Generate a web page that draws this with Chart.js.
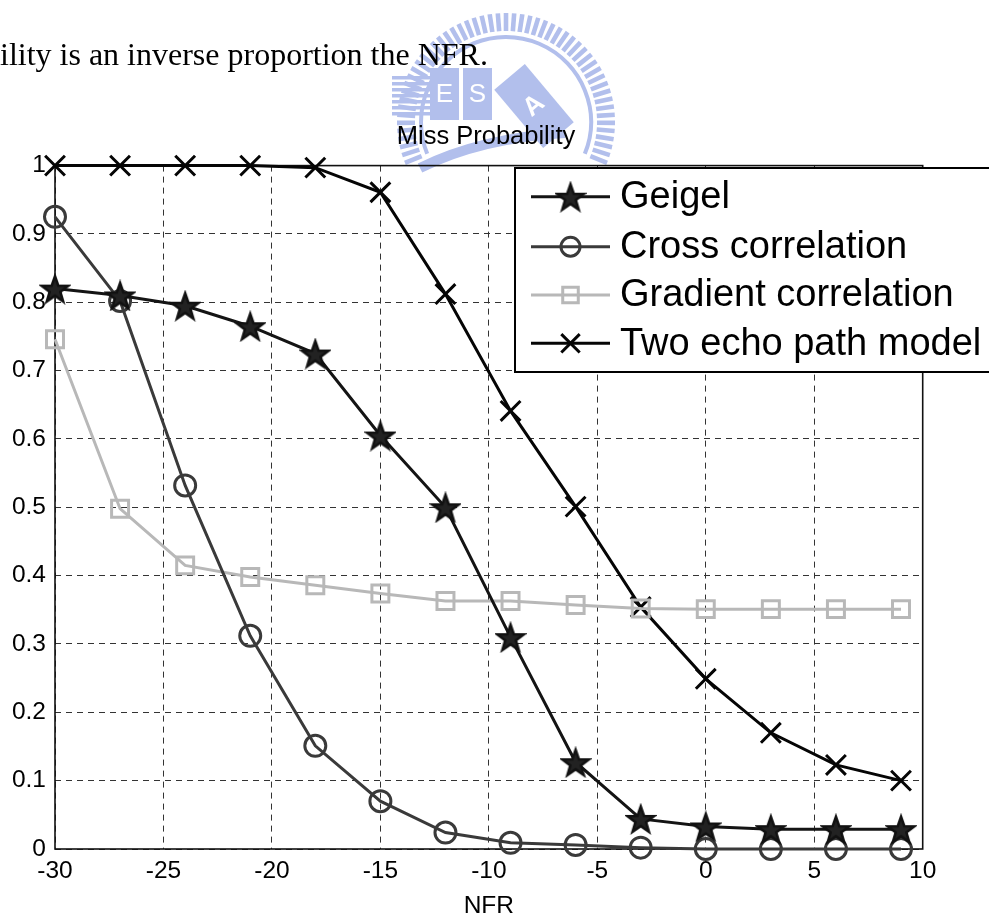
<!DOCTYPE html>
<html>
<head>
<meta charset="utf-8">
<title>Miss Probability</title>
<script src="https://cdn.jsdelivr.net/npm/chart.js@4.4.1/dist/chart.umd.min.js"></script>
<style>
  html, body { margin: 0; padding: 0; background: #fff; }
  #wrap { position: relative; width: 989px; height: 918px; overflow: hidden; }
  canvas { display: block; }
</style>
</head>
<body>
<div id="wrap"><canvas id="missChart" width="989" height="918"></canvas></div>
<script>
// Miss probability against NFR, four detectors

const nfr = [-30, -27, -24, -21, -18, -15, -12, -9, -6, -3, 0, 3, 6, 9];
const geigel = [0.820, 0.810, 0.795, 0.765, 0.725, 0.605, 0.500, 0.310, 0.127, 0.044, 0.033, 0.029, 0.029, 0.029];
const crossCorr = [0.925, 0.802, 0.532, 0.312, 0.151, 0.070, 0.024, 0.009, 0.006, 0.002, 0, 0, 0, 0];
const gradCorr = [0.746, 0.498, 0.415, 0.398, 0.386, 0.374, 0.363, 0.363, 0.357, 0.352, 0.351, 0.351, 0.351, 0.351];
const twoEcho = [1, 1, 1, 1, 0.997, 0.961, 0.812, 0.641, 0.501, 0.354, 0.249, 0.170, 0.123, 0.100];

const seriesNames = ['Geigel', 'Cross correlation', 'Gradient correlation', 'Two echo path model'];
const xTicks = [-30, -25, -20, -15, -10, -5, 0, 5, 10];
const yTicks = [0, 0.1, 0.2, 0.3, 0.4, 0.5, 0.6, 0.7, 0.8, 0.9, 1];

const chartTitle = 'Miss Probability';
const xTitle = 'NFR';
const pageText = 'ility is an inverse proportion the NFR.';

const SANS = "'Liberation Sans', Arial, Helvetica, sans-serif";

// pentagram marker (matlab 'p')
function makeStar(size, color, lw) {
    const c = document.createElement('canvas');
    c.width = c.height = size;
    const g = c.getContext('2d');
    const cx = size / 2, cy = size / 2 + 1.5;
    const R = size / 2 - lw + 0.5, r = R * 0.4;
    g.beginPath();
    for (let i = 0; i < 10; i++) {
        const a = -Math.PI / 2 + i * Math.PI / 5;
        const rr = i % 2 ? r : R;
        g.lineTo(cx + rr * Math.cos(a), cy + rr * Math.sin(a));
    }
    g.closePath();
    g.lineJoin = 'miter';
    g.fillStyle = '#222';
    g.fill();
    g.lineWidth = lw;
    g.strokeStyle = color;
    g.stroke();
    return c;
}

const starImg = makeStar(32, '#111', 2.5);

function toPoints(ys) {
    return nfr.map((x, i) => ({ x: x, y: ys[i] }));
}

const datasets = [
    {
        label: seriesNames[0], data: toPoints(geigel),
        borderColor: '#141414', borderWidth: 3,
        pointStyle: starImg, pointRadius: 13,
        pointBorderColor: '#141414', pointBackgroundColor: 'rgba(0,0,0,0)'
    },
    {
        label: seriesNames[1], data: toPoints(crossCorr),
        borderColor: '#3a3a3a', borderWidth: 3,
        pointStyle: 'circle', pointRadius: 10.5, pointBorderWidth: 3,
        pointBorderColor: '#3a3a3a', pointBackgroundColor: 'rgba(0,0,0,0)'
    },
    {
        label: seriesNames[2], data: toPoints(gradCorr),
        borderColor: '#b8b8b8', borderWidth: 3,
        pointStyle: 'rect', pointRadius: 12, pointBorderWidth: 3,
        pointBorderColor: '#b8b8b8', pointBackgroundColor: 'rgba(0,0,0,0)'
    },
    {
        label: seriesNames[3], data: toPoints(twoEcho),
        borderColor: '#050505', borderWidth: 3,
        pointStyle: 'crossRot', pointRadius: 14, pointBorderWidth: 3,
        pointBorderColor: '#050505', pointBackgroundColor: 'rgba(0,0,0,0)'
    }
];
datasets.forEach(ds => {
    ds.tension = 0;
    ds.fill = false;
    ds.clip = 20;
});

// pale blue school emblem behind the title
function drawLogo(ctx) {
    const blue = '#b2bfec';
    const cx = 506, cy = 122;
    ctx.save();
    ctx.fillStyle = blue;
    ctx.strokeStyle = blue;
    const a0 = Math.PI * 158 / 180, a1 = Math.PI * 382 / 180;
    const n = 52;
    for (let i = 0; i <= n; i++) {
        const a = a0 + (a1 - a0) * i / n;
        ctx.save();
        ctx.translate(cx + Math.cos(a) * 100, cy + Math.sin(a) * 100);
        ctx.rotate(a);
        ctx.fillRect(-9, -2.3, 18, 4.6);
        ctx.restore();
    }
    ctx.lineWidth = 4;
    ctx.beginPath();
    ctx.arc(cx, cy, 85, a0, a1);
    ctx.stroke();
    // building
    for (let k = 0; k < 7; k++) {
        ctx.fillRect(392, 76 + k * 6, 40, 3.5);
    }
    ctx.fillRect(430, 68, 29, 52);
    ctx.fillRect(463, 68, 29, 52);
    ctx.save();
    ctx.translate(534, 106);
    ctx.rotate(-0.7);
    ctx.fillRect(-20, -38, 40, 76);
    ctx.fillStyle = '#fff';
    ctx.font = "bold 26px " + SANS;
    ctx.textAlign = 'center';
    ctx.textBaseline = 'middle';
    ctx.fillText('A', 0, 0);
    ctx.restore();
    ctx.fillStyle = '#fff';
    ctx.font = "26px " + SANS;
    ctx.textAlign = 'center';
    ctx.textBaseline = 'middle';
    ctx.fillText('E', 444.5, 95);
    ctx.fillText('S', 477.5, 95);
    // lower sweep
    ctx.strokeStyle = blue;
    ctx.lineWidth = 10;
    ctx.beginPath();
    ctx.moveTo(420, 168);
    ctx.quadraticCurveTo(480, 138, 565, 133);
    ctx.stroke();
    ctx.restore();
}

const backdrop = {
    id: 'backdrop',
    beforeDraw(chart) {
        const ctx = chart.ctx;
        ctx.save();
        ctx.fillStyle = '#fff';
        ctx.fillRect(0, 0, chart.width, chart.height);
        ctx.restore();
        drawLogo(ctx);
        ctx.save();
        ctx.fillStyle = '#000';
        ctx.font = "32px 'Liberation Serif', 'Times New Roman', serif";
        ctx.textBaseline = 'alphabetic';
        ctx.fillText(pageText, 0, 65);
        ctx.font = "25.5px " + SANS;
        ctx.textAlign = 'center';
        ctx.textBaseline = 'middle';
        ctx.fillText(chartTitle, 486, 137);
        ctx.restore();
    }
};

// solid box round the axes
const axesBox = {
    id: 'axesBox',
    beforeDatasetsDraw(chart) {
        const a = chart.chartArea;
        const ctx = chart.ctx;
        ctx.save();
        ctx.strokeStyle = '#111';
        ctx.lineWidth = 1.6;
        ctx.strokeRect(a.left, a.top, a.right - a.left, a.bottom - a.top);
        ctx.restore();
    }
};

// legend box in the upper right, clipped by the canvas edge
const boxLegend = {
    id: 'boxLegend',
    afterDraw(chart) {
        const ctx = chart.ctx;
        const left = 515, top = 168, right = 1010, bottom = 372;
        const rowY = [196.7, 246.7, 295, 343.3];
        ctx.save();
        ctx.fillStyle = '#fff';
        ctx.fillRect(left, top, right - left, bottom - top);
        ctx.strokeStyle = '#000';
        ctx.lineWidth = 2;
        ctx.strokeRect(left, top, right - left, bottom - top);
        chart.data.datasets.forEach((ds, i) => {
            const y = rowY[i];
            ctx.strokeStyle = ds.borderColor;
            ctx.lineWidth = ds.borderWidth;
            ctx.beginPath();
            ctx.moveTo(531, y);
            ctx.lineTo(610, y);
            ctx.stroke();
            if (ds.pointStyle instanceof HTMLCanvasElement) {
                ctx.drawImage(ds.pointStyle, 570.5 - ds.pointStyle.width / 2, y - ds.pointStyle.height / 2);
            } else {
                ctx.fillStyle = 'rgba(0,0,0,0)';
                ctx.strokeStyle = ds.pointBorderColor;
                ctx.lineWidth = ds.pointBorderWidth;
                Chart.helpers.drawPoint(ctx, {
                    pointStyle: ds.pointStyle,
                    radius: ds.pointRadius - 1,
                    borderWidth: ds.pointBorderWidth,
                    rotation: 0
                }, 570.5, y);
            }
            ctx.fillStyle = '#000';
            ctx.font = "38px " + SANS;
            ctx.textAlign = 'left';
            ctx.textBaseline = 'middle';
            ctx.fillText(ds.label, 620, y + 1);
        });
        ctx.restore();
    }
};

const tickFont = { family: SANS, size: 24.5 };

new Chart(document.getElementById('missChart'), {
    type: 'line',
    data: { datasets: datasets },
    options: {
        responsive: false,
        animation: false,
        layout: { padding: { top: 165.6, right: 66.3, left: 0, bottom: 0 } },
        plugins: {
            legend: { display: false },
            title: { display: false },
            tooltip: { enabled: false }
        },
        scales: {
            x: {
                type: 'linear',
                min: -30,
                max: 10,
                afterBuildTicks: s => { s.ticks = xTicks.map(v => ({ value: v })); },
                afterFit: s => { s.height = 69; },
                ticks: {
                    color: '#000',
                    font: tickFont,
                    padding: 8,
                    maxRotation: 0,
                    callback: v => String(v)
                },
                grid: { color: '#333', lineWidth: 1, drawTicks: false },
                border: { display: false, dash: [6, 5] },
                title: {
                    display: true,
                    text: xTitle,
                    color: '#000',
                    font: { family: SANS, size: 24.5, lineHeight: 1 },
                    padding: { top: 0, bottom: 0 }
                }
            },
            y: {
                type: 'linear',
                min: 0,
                max: 1,
                afterBuildTicks: s => { s.ticks = yTicks.map(v => ({ value: v })); },
                afterFit: s => { s.width = 55; },
                ticks: {
                    color: '#000',
                    font: tickFont,
                    padding: 9,
                    callback: v => String(parseFloat(v.toFixed(2)))
                },
                grid: { color: '#333', lineWidth: 1, drawTicks: false },
                border: { display: false, dash: [6, 5] }
            }
        }
    },
    plugins: [backdrop, axesBox, boxLegend]
});
</script>
</body>
</html>
